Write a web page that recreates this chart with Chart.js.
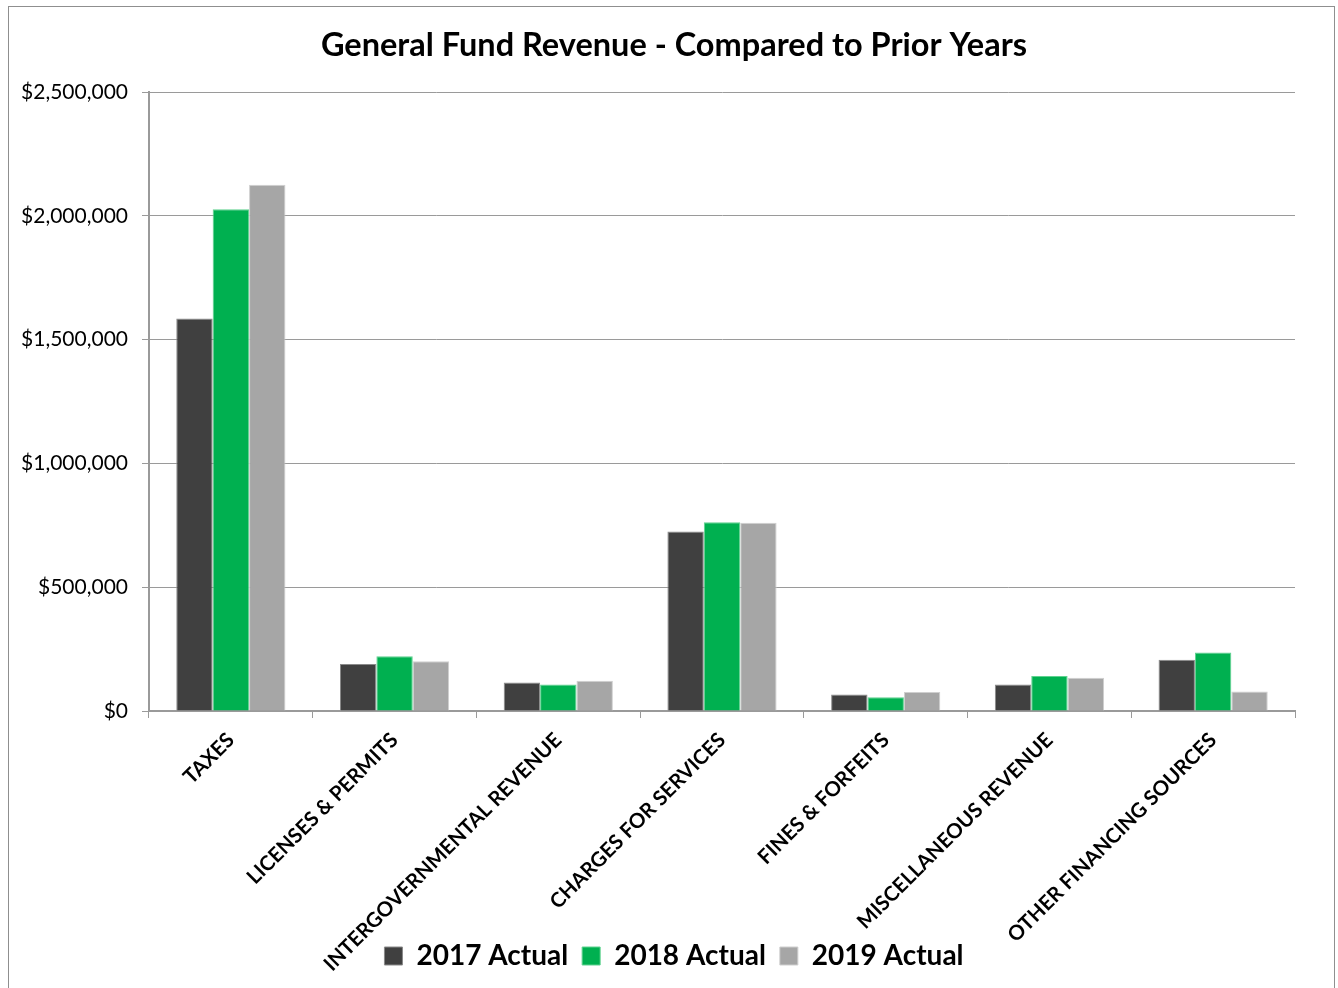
<!DOCTYPE html>
<html>
<head>
<meta charset="utf-8">
<title>General Fund Revenue</title>
<script src="https://cdn.jsdelivr.net/npm/chart.js@4.4.1/dist/chart.umd.min.js"></script>
<style>
  html, body { margin: 0; padding: 0; background: #fff; }
  #wrap { position: relative; width: 1338px; height: 988px; overflow: hidden; }
  #frame {
    position: absolute; left: 8px; top: 6px; width: 1325px; height: 1000px;
    border: 1px solid #8f8f8f; pointer-events: none;
  }
  canvas { position: absolute; left: 0; top: 0; }
</style>
</head>
<body>
<div id="wrap">
  <canvas id="revenueChart" width="1338" height="988"></canvas>
  <div id="frame"></div>
</div>
<script>
// revenue categories and yearly actuals (dollars)
const categories = [
  'TAXES',
  'LICENSES & PERMITS',
  'INTERGOVERNMENTAL REVENUE',
  'CHARGES FOR SERVICES',
  'FINES & FORFEITS',
  'MISCELLANEOUS REVENUE',
  'OTHER FINANCING SOURCES'
];
const actual2017 = [1585000, 190000, 115000, 725000, 67000, 107000, 207000];
const actual2018 = [2026000, 221000, 107000, 762000, 56000, 141000, 236000];
const actual2019 = [2125000, 201000, 122000, 760000, 77000, 134000, 79000];
const seriesNames = ['2017 Actual', '2018 Actual', '2019 Actual'];
const yTicks = [0, 500000, 1000000, 1500000, 2000000, 2500000];

const FONT = 'Lato, "Open Sans", sans-serif';
const gridGray = '#9a9a9a';

function money(v) {
  return '$' + Math.round(v).toLocaleString('en-US');
}

// tick labels may run past the axis box (long rotated names overlap the legend)
function noLabelClip(scale) {
  scale._computeLabelArea = () => null;
}

new Chart(document.getElementById('revenueChart'), {
  type: 'bar',
  data: {
    labels: categories,
    datasets: [
      { label: seriesNames[0], data: actual2017, backgroundColor: '#404040', borderColor: '#8a8a8a', borderWidth: 1 },
      { label: seriesNames[1], data: actual2018, backgroundColor: '#00B050', borderColor: '#5fd28f', borderWidth: 1 },
      { label: seriesNames[2], data: actual2019, backgroundColor: '#A6A6A6', borderColor: '#cfcfcf', borderWidth: 1 }
    ]
  },
  options: {
    responsive: false,
    animation: false,
    devicePixelRatio: 1,
    layout: { padding: { left: 53, right: 43, top: 0, bottom: 8 } },
    datasets: { bar: { categoryPercentage: 0.667, barPercentage: 1.0 } },
    plugins: {
      title: {
        display: true,
        text: 'General Fund Revenue - Compared to Prior Years',
        color: '#000',
        font: { family: FONT, size: 32.5, weight: 'bold' },
        padding: { top: 26, bottom: 27 }
      },
      legend: {
        position: 'bottom',
        labels: {
          color: '#000',
          font: { family: FONT, size: 28, weight: 'bold' },
          boxWidth: 18,
          boxHeight: 18,
          padding: 14
        }
      },
      tooltip: { enabled: false }
    },
    scales: {
      x: {
        grid: {
          drawOnChartArea: false,
          drawTicks: true,
          tickLength: 7,
          color: gridGray
        },
        border: { color: gridGray, width: 2 },
        ticks: {
          autoSkip: false,
          minRotation: 45,
          maxRotation: 45,
          padding: 10,
          color: '#000',
          font: { family: FONT, size: 20.5, weight: 'bold' }
        },
        afterFit: (scale) => { scale.height = 217; noLabelClip(scale); }
      },
      y: {
        min: 0,
        max: 2500000,
        afterBuildTicks: (scale) => { scale.ticks = yTicks.map(v => ({ value: v })); },
        grid: { color: gridGray, lineWidth: 1, tickLength: 7 },
        border: { color: gridGray, width: 2 },
        ticks: {
          padding: 14,
          color: '#000',
          font: { family: FONT, size: 21 },
          callback: (v) => money(v)
        },
        afterFit: (scale) => { scale.width = 96; noLabelClip(scale); }
      }
    }
  }
});
</script>
</body>
</html>
